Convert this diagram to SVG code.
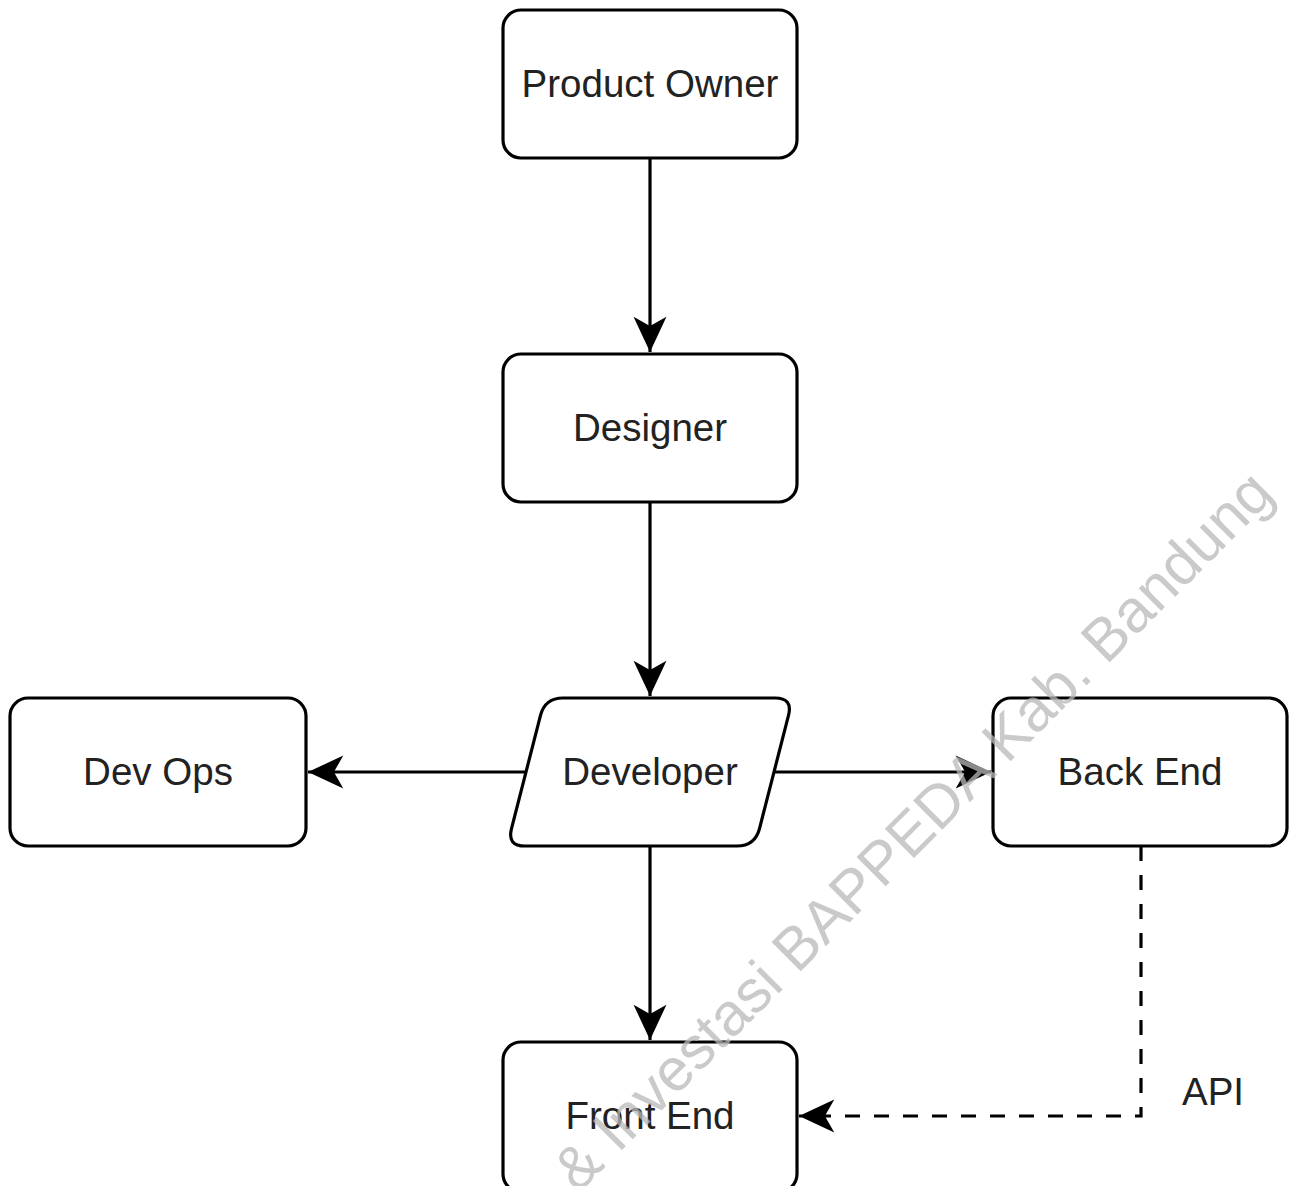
<svg xmlns="http://www.w3.org/2000/svg" width="1291" height="1186" viewBox="0 0 1291 1186">
<style>
.box{fill:#fff;stroke:#000;stroke-width:3.2}
.lbl{font-family:"Liberation Sans",Arial,sans-serif;font-size:38.5px;fill:#222;text-anchor:middle}
.edge{fill:none;stroke:#000;stroke-width:3.2}
.dash{stroke-dasharray:15 14}
.wm{font-family:"Liberation Sans",Arial,sans-serif;font-size:60px;fill:#b8b8b8;fill-opacity:0.75}
</style>
<defs>
<marker id="arr" markerUnits="userSpaceOnUse" markerWidth="40" markerHeight="40" viewBox="-32 -16 34 32" refX="0" refY="0" orient="auto">
<path d="M0,0 L-30,-14 L-22,0 L-30,14 Z" fill="#000" stroke="none"/>
</marker>
</defs>
<rect width="1291" height="1186" fill="#fff"/>
<g id="connectors">
<path class="edge" d="M650,158 L650,352" marker-end="url(#arr)"/>
<path class="edge" d="M650,502 L650,696" marker-end="url(#arr)"/>
<path class="edge" d="M526,772 L308,772" marker-end="url(#arr)"/>
<path class="edge" d="M774,772 L991,772" marker-end="url(#arr)"/>
<path class="edge" d="M650,846 L650,1040" marker-end="url(#arr)"/>
<path class="edge dash" d="M1141,846 L1141,1116 L799,1116" marker-end="url(#arr)"/>
<text class="lbl" x="1182" y="1105" style="text-anchor:start">API</text>
</g>
<g id="product-owner">
<rect class="box" x="503" y="10" width="294" height="148" rx="18"/>
<text class="lbl" x="650" y="97">Product Owner</text>
</g>
<g id="designer">
<rect class="box" x="503" y="354" width="294" height="148" rx="18"/>
<text class="lbl" x="650" y="441">Designer</text>
</g>
<g id="developer">
<path class="box" d="M540.5,715.4 Q545,698 563,698 L775,698 Q793,698 788.5,715.4 L759.5,828.6 Q755,846 737,846 L525,846 Q507,846 511.5,828.6 Z"/>
<text class="lbl" x="650" y="785">Developer</text>
</g>
<g id="dev-ops">
<rect class="box" x="10" y="698" width="296" height="148" rx="18"/>
<text class="lbl" x="158" y="785">Dev Ops</text>
</g>
<g id="back-end">
<rect class="box" x="993" y="698" width="294" height="148" rx="18"/>
<text class="lbl" x="1140" y="785">Back End</text>
</g>
<g id="front-end">
<rect class="box" x="503" y="1042" width="294" height="150" rx="18"/>
<text class="lbl" x="650" y="1129">Front End</text>
</g>
<text class="wm" x="578" y="1194" transform="rotate(-45 578 1194)">&amp; Investasi BAPPEDA Kab. Bandung</text>
</svg>
